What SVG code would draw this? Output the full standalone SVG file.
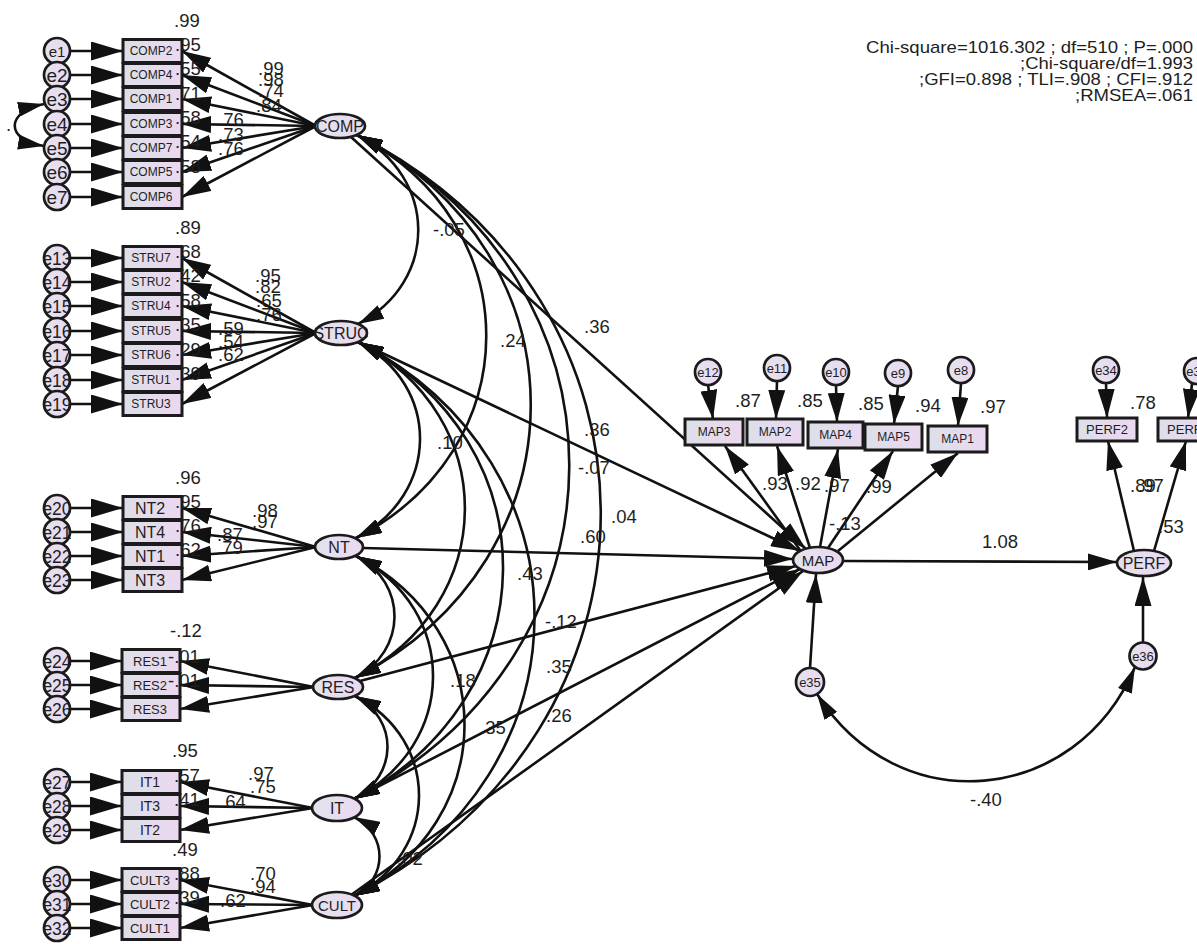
<svg xmlns="http://www.w3.org/2000/svg" width="1197" height="944" viewBox="0 0 1197 944">
<defs>
<linearGradient id="gb" x1="0" y1="0" x2="1" y2="0"><stop offset="0" stop-color="#dddfe9"/><stop offset="1" stop-color="#ebd8f0"/></linearGradient>
<linearGradient id="ge" x1="0" y1="0" x2="1" y2="0"><stop offset="0" stop-color="#e4e2ee"/><stop offset="1" stop-color="#ead9f0"/></linearGradient>
<marker id="ma" viewBox="0 0 10 10" refX="10" refY="5" markerWidth="29" markerHeight="17" markerUnits="userSpaceOnUse" orient="auto-start-reverse" preserveAspectRatio="none"><path d="M0,0L10,5L0,10z" fill="#111"/></marker>
<marker id="mb" viewBox="0 0 10 10" refX="10" refY="5" markerWidth="32" markerHeight="19" markerUnits="userSpaceOnUse" orient="auto-start-reverse" preserveAspectRatio="none"><path d="M0,0L10,5L0,10z" fill="#111"/></marker>
<marker id="mc" viewBox="0 0 10 10" refX="10" refY="5" markerWidth="26" markerHeight="15" markerUnits="userSpaceOnUse" orient="auto-start-reverse" preserveAspectRatio="none"><path d="M0,0L10,5L0,10z" fill="#111"/></marker>
</defs>
<style>
.c path{fill:none;stroke:#111;stroke-width:2.6}
.c .a{marker-end:url(#ma)}
.c .b{marker-end:url(#mb)}
.c .v{marker-start:url(#mc);marker-end:url(#mc)}
.bx{fill:url(#gb);stroke:#1b1b1b;stroke-width:3}
.el{fill:url(#ge);stroke:#1b1b1b;stroke-width:2.7}
text{font-family:"Liberation Sans",Arial,Helvetica,sans-serif;fill:#1e1e1e}
.n{font-size:18.5px}
.s{font-size:17px}
.m{text-anchor:middle}
.t11{font-size:12px}
.t12{font-size:13px}
.t13{font-size:14px}
.t15{font-size:16px}
.t17{font-size:17.5px}
.t18{font-size:19px}
.t14{font-size:15px}
.t16{font-size:16px}
</style>
<rect width="1197" height="944" fill="#fff"/>

<g id="connectors" class="c">
<path class="v" d="M44,104C5,112 5,140 44,146"/>
<path class="b" d="M70,51H123"/><path class="b" d="M70,75H123"/><path class="b" d="M70,99H123"/><path class="b" d="M70,124H123"/><path class="b" d="M70,148H123"/><path class="b" d="M70,172H123"/><path class="b" d="M70,197H123"/>
<path class="b" d="M70,258H123"/><path class="b" d="M70,282H123"/><path class="b" d="M70,306H123"/><path class="b" d="M70,331H123"/><path class="b" d="M70,355H123"/><path class="b" d="M70,380H123"/><path class="b" d="M70,404H123"/>
<path class="b" d="M70,508H123"/><path class="b" d="M70,532H123"/><path class="b" d="M70,556H123"/><path class="b" d="M70,580H123"/>
<path class="b" d="M70,661H122"/><path class="b" d="M70,685H122"/><path class="b" d="M70,709H122"/>
<path class="b" d="M70,782H122"/><path class="b" d="M70,806H122"/><path class="b" d="M70,830H122"/>
<path class="b" d="M70,880H122"/><path class="b" d="M70,904H122"/><path class="b" d="M70,928H122"/>
<path class="a" d="M316,126L182,51"/><path class="a" d="M316,126L182,75"/><path class="a" d="M316,126L182,99"/><path class="a" d="M316,126L182,124"/><path class="a" d="M316,126L182,148"/><path class="a" d="M316,126L182,172"/><path class="a" d="M316,126L182,197"/>
<path class="a" d="M316,333L182,258"/><path class="a" d="M316,333L182,282"/><path class="a" d="M316,333L182,306"/><path class="a" d="M316,333L182,331"/><path class="a" d="M316,333L182,355"/><path class="a" d="M316,333L182,380"/><path class="a" d="M316,333L182,404"/>
<path class="a" d="M316,547L182,508"/><path class="a" d="M316,547L182,532"/><path class="a" d="M316,547L182,556"/><path class="a" d="M316,547L182,580"/>
<path class="a" d="M314,687L180,661"/><path class="a" d="M314,687L180,685"/><path class="a" d="M314,687L180,709"/>
<path class="a" d="M313,808L180,782"/><path class="a" d="M313,808L180,806"/><path class="a" d="M313,808L180,830"/>
<path class="a" d="M313,905L180,880"/><path class="a" d="M313,905L180,904"/><path class="a" d="M313,905L180,928"/>
<path class="v" d="M357,135C438,177 439,282 358,324"/>
<path class="v" d="M357,135C530,224 529,449 356,538"/>
<path class="v" d="M357,135C590,254 588,558 355,678"/>
<path class="v" d="M357,135C642,281 639,653 354,799"/>
<path class="v" d="M357,135C684,302 681,729 354,896"/>
<path class="v" d="M358,342C442,385 440,495 356,538"/>
<path class="v" d="M358,342C502,416 500,604 355,678"/>
<path class="v" d="M358,342C554,442 550,698 354,799"/>
<path class="v" d="M358,342C596,464 592,774 354,896"/>
<path class="v" d="M356,556C408,583 407,651 355,678"/>
<path class="v" d="M356,556C460,610 458,745 354,799"/>
<path class="v" d="M356,556C502,631 500,821 354,896"/>
<path class="v" d="M355,696C399,719 398,776 354,799"/>
<path class="v" d="M355,696C441,740 440,852 354,896"/>
<path class="v" d="M354,817C388,834 388,879 354,896"/>
<path class="a" d="M351,137L806,549"/>
<path class="a" d="M359,342L800,551"/>
<path class="a" d="M363,548L793,559"/>
<path class="a" d="M360,681L796,566"/>
<path class="a" d="M354,799L800,569"/>
<path class="a" d="M351,895L803,571"/>
<path class="a" d="M800,550L725,446"/>
<path class="a" d="M810,548L777,446"/>
<path class="a" d="M820,547L838,449"/>
<path class="a" d="M828,548L893,451"/>
<path class="a" d="M838,551L958,453"/>
<path class="a" d="M708,385L713,419"/>
<path class="a" d="M777,381L776,419"/>
<path class="a" d="M836,385L837,422"/>
<path class="a" d="M898,386L894,424"/>
<path class="a" d="M961,383L958,426"/>
<path class="a" d="M810,668L816,574"/>
<path class="a" d="M1143,642L1143,577"/>
<path class="a" d="M843,561L1117,562"/>
<path class="a" d="M1134,551L1108,441"/>
<path class="a" d="M1154,551L1186,441"/>
<path class="a" d="M1106,383L1107,418"/>
<path class="a" d="M1192,384L1188,418"/>
<path class="v" d="M817,694C898,822 1076,806 1135,667"/>
</g>

<g id="COMP2"><rect class="bx" x="123" y="39.5" width="59" height="23"/><text class="t11 m" x="151" y="55">COMP2</text></g>
<g id="COMP4"><rect class="bx" x="123" y="63.5" width="59" height="23"/><text class="t11 m" x="151" y="79">COMP4</text></g>
<g id="COMP1"><rect class="bx" x="123" y="87.5" width="59" height="23"/><text class="t11 m" x="151" y="103">COMP1</text></g>
<g id="COMP3"><rect class="bx" x="123" y="112.5" width="59" height="23"/><text class="t11 m" x="151" y="128">COMP3</text></g>
<g id="COMP7"><rect class="bx" x="123" y="136.5" width="59" height="23"/><text class="t11 m" x="151" y="152">COMP7</text></g>
<g id="COMP5"><rect class="bx" x="123" y="160.5" width="59" height="23"/><text class="t11 m" x="151" y="176">COMP5</text></g>
<g id="COMP6"><rect class="bx" x="123" y="185.5" width="59" height="23"/><text class="t11 m" x="151" y="201">COMP6</text></g>

<g id="STRU7"><rect class="bx" x="123" y="246.5" width="59" height="23"/><text class="t11 m" x="151" y="262">STRU7</text></g>
<g id="STRU2"><rect class="bx" x="123" y="270.5" width="59" height="23"/><text class="t11 m" x="151" y="286">STRU2</text></g>
<g id="STRU4"><rect class="bx" x="123" y="294.5" width="59" height="23"/><text class="t11 m" x="151" y="310">STRU4</text></g>
<g id="STRU5"><rect class="bx" x="123" y="319.5" width="59" height="23"/><text class="t11 m" x="151" y="335">STRU5</text></g>
<g id="STRU6"><rect class="bx" x="123" y="343.5" width="59" height="23"/><text class="t11 m" x="151" y="359">STRU6</text></g>
<g id="STRU1"><rect class="bx" x="123" y="368.5" width="59" height="23"/><text class="t11 m" x="151" y="384">STRU1</text></g>
<g id="STRU3"><rect class="bx" x="123" y="392.5" width="59" height="23"/><text class="t11 m" x="151" y="408">STRU3</text></g>

<g id="NT2"><rect class="bx" x="123" y="496.5" width="59" height="23"/><text class="t15 m" x="150" y="514">NT2</text></g>
<g id="NT4"><rect class="bx" x="123" y="520.5" width="59" height="23"/><text class="t15 m" x="150" y="538">NT4</text></g>
<g id="NT1"><rect class="bx" x="123" y="544.5" width="59" height="23"/><text class="t15 m" x="150" y="562">NT1</text></g>
<g id="NT3"><rect class="bx" x="123" y="568.5" width="59" height="23"/><text class="t15 m" x="150" y="586">NT3</text></g>

<g id="RES1"><rect class="bx" x="122" y="649.5" width="58" height="23"/><text class="t12 m" x="150" y="665.5">RES1</text></g>
<g id="RES2"><rect class="bx" x="122" y="673.5" width="58" height="23"/><text class="t12 m" x="150" y="689.5">RES2</text></g>
<g id="RES3"><rect class="bx" x="122" y="697.5" width="58" height="23"/><text class="t12 m" x="150" y="713.5">RES3</text></g>

<g id="IT1"><rect class="bx" x="122" y="770.5" width="58" height="23"/><text class="t13 m" x="150" y="787">IT1</text></g>
<g id="IT3"><rect class="bx" x="122" y="794.5" width="58" height="23"/><text class="t13 m" x="150" y="811">IT3</text></g>
<g id="IT2"><rect class="bx" x="122" y="818.5" width="58" height="23"/><text class="t13 m" x="150" y="835">IT2</text></g>

<g id="CULT3"><rect class="bx" x="122" y="868.5" width="58" height="23"/><text class="t12 m" x="150" y="884.5">CULT3</text></g>
<g id="CULT2"><rect class="bx" x="122" y="892.5" width="58" height="23"/><text class="t12 m" x="150" y="908.5">CULT2</text></g>
<g id="CULT1"><rect class="bx" x="122" y="916.5" width="58" height="23"/><text class="t12 m" x="150" y="932.5">CULT1</text></g>

<g id="e1"><circle class="el" cx="57" cy="51" r="13"/><text class="t14 m" x="57" y="56.5">e1</text></g>
<g id="e2"><circle class="el" cx="57" cy="75" r="13"/><text class="t18 m" x="57" y="82">e2</text></g>
<g id="e3"><circle class="el" cx="57" cy="99" r="13"/><text class="t18 m" x="57" y="106">e3</text></g>
<g id="e4"><circle class="el" cx="57" cy="124" r="13"/><text class="t18 m" x="57" y="131">e4</text></g>
<g id="e5"><circle class="el" cx="57" cy="148" r="13"/><text class="t18 m" x="57" y="155">e5</text></g>
<g id="e6"><circle class="el" cx="57" cy="172" r="13"/><text class="t18 m" x="57" y="179">e6</text></g>
<g id="e7"><circle class="el" cx="57" cy="197" r="13"/><text class="t18 m" x="57" y="204">e7</text></g>
<g id="e13"><circle class="el" cx="57" cy="258" r="13"/><text class="t17 m" x="57" y="264.5">e13</text></g>
<g id="e14"><circle class="el" cx="57" cy="282" r="13"/><text class="t17 m" x="57" y="288.5">e14</text></g>
<g id="e15"><circle class="el" cx="57" cy="306" r="13"/><text class="t17 m" x="57" y="312.5">e15</text></g>
<g id="e16"><circle class="el" cx="57" cy="331" r="13"/><text class="t17 m" x="57" y="337.5">e16</text></g>
<g id="e17"><circle class="el" cx="57" cy="355" r="13"/><text class="t17 m" x="57" y="361.5">e17</text></g>
<g id="e18"><circle class="el" cx="57" cy="380" r="13"/><text class="t17 m" x="57" y="386.5">e18</text></g>
<g id="e19"><circle class="el" cx="57" cy="404" r="13"/><text class="t17 m" x="57" y="410.5">e19</text></g>
<g id="e20"><circle class="el" cx="57" cy="508" r="13"/><text class="t17 m" x="57" y="514.5">e20</text></g>
<g id="e21"><circle class="el" cx="57" cy="532" r="13"/><text class="t17 m" x="57" y="538.5">e21</text></g>
<g id="e22"><circle class="el" cx="57" cy="556" r="13"/><text class="t17 m" x="57" y="562.5">e22</text></g>
<g id="e23"><circle class="el" cx="57" cy="580" r="13"/><text class="t17 m" x="57" y="586.5">e23</text></g>
<g id="e24"><circle class="el" cx="57" cy="661" r="13"/><text class="t17 m" x="57" y="667.5">e24</text></g>
<g id="e25"><circle class="el" cx="57" cy="685" r="13"/><text class="t17 m" x="57" y="691.5">e25</text></g>
<g id="e26"><circle class="el" cx="57" cy="709" r="13"/><text class="t17 m" x="57" y="715.5">e26</text></g>
<g id="e27"><circle class="el" cx="57" cy="782" r="13"/><text class="t17 m" x="57" y="788.5">e27</text></g>
<g id="e28"><circle class="el" cx="57" cy="806" r="13"/><text class="t17 m" x="57" y="812.5">e28</text></g>
<g id="e29"><circle class="el" cx="57" cy="830" r="13"/><text class="t17 m" x="57" y="836.5">e29</text></g>
<g id="e30"><circle class="el" cx="57" cy="880" r="13"/><text class="t17 m" x="57" y="886.5">e30</text></g>
<g id="e31"><circle class="el" cx="57" cy="904" r="13"/><text class="t17 m" x="57" y="910.5">e31</text></g>
<g id="e32"><circle class="el" cx="57" cy="928" r="13"/><text class="t17 m" x="57" y="934.5">e32</text></g>

<g id="COMP"><ellipse class="el" cx="340" cy="126" rx="25" ry="12"/><text class="t16 m" x="340" y="131.5">COMP</text></g>
<g id="STRUC"><ellipse class="el" cx="341" cy="333" rx="26" ry="12"/><text class="t16 m" x="341" y="338.5">STRUC</text></g>
<g id="NT"><ellipse class="el" cx="339" cy="547" rx="24" ry="12"/><text class="t16 m" x="339" y="552.5">NT</text></g>
<g id="RES"><ellipse class="el" cx="338" cy="687" rx="25" ry="12"/><text class="t16 m" x="338" y="692.5">RES</text></g>
<g id="IT"><ellipse class="el" cx="337" cy="808" rx="25" ry="13"/><text class="t16 m" x="337" y="813.5">IT</text></g>
<g id="CULT"><ellipse class="el" cx="337" cy="905" rx="25" ry="13"/><text class="t14 m" x="337" y="910.5">CULT</text></g>

<g id="MAP3"><rect class="bx" x="685" y="419" width="58" height="26"/><text class="t11 m" x="714" y="436">MAP3</text></g>
<g id="MAP2"><rect class="bx" x="747" y="419" width="56" height="26"/><text class="t11 m" x="775" y="436">MAP2</text></g>
<g id="MAP4"><rect class="bx" x="808" y="422" width="55" height="26"/><text class="t11 m" x="835.5" y="439">MAP4</text></g>
<g id="MAP5"><rect class="bx" x="865" y="424" width="57" height="26"/><text class="t11 m" x="893.5" y="441">MAP5</text></g>
<g id="MAP1"><rect class="bx" x="928" y="426" width="59" height="26"/><text class="t11 m" x="957.5" y="443">MAP1</text></g>
<g id="e12"><circle class="el" cx="708" cy="372" r="13"/><text class="t12 m" x="708" y="376.5">e12</text></g>
<g id="e11"><circle class="el" cx="777" cy="368" r="13"/><text class="t12 m" x="777" y="372.5">e11</text></g>
<g id="e10"><circle class="el" cx="836" cy="372" r="13"/><text class="t12 m" x="836" y="376.5">e10</text></g>
<g id="e9"><circle class="el" cx="898" cy="373" r="13"/><text class="t12 m" x="898" y="377.5">e9</text></g>
<g id="e8"><circle class="el" cx="961" cy="370" r="13"/><text class="t12 m" x="961" y="374.5">e8</text></g>
<g id="MAP"><ellipse class="el" cx="818" cy="560" rx="25" ry="13"/><text class="t14 m" x="818" y="565.5">MAP</text></g>
<g id="e35"><circle class="el" cx="810" cy="682" r="14"/><text class="t12 m" x="810" y="686.5">e35</text></g>

<g id="PERF2"><rect class="bx" x="1077" y="418" width="60" height="23"/><text class="t12 m" x="1107" y="434">PERF2</text></g>
<g id="PERF1"><rect class="bx" x="1158" y="418" width="60" height="23"/><text class="t12 m" x="1188" y="434">PERF1</text></g>
<g id="e34"><circle class="el" cx="1106" cy="370" r="13"/><text class="t12 m" x="1106" y="374.5">e34</text></g>
<g id="e33"><circle class="el" cx="1197" cy="371" r="13"/><text class="t12 m" x="1197" y="375.5">e33</text></g>
<g id="PERF"><ellipse class="el" cx="1144" cy="563" rx="27" ry="13"/><text class="t16 m" x="1144" y="568.5">PERF</text></g>
<g id="e36"><circle class="el" cx="1143" cy="656" r="13.5"/><text class="t12 m" x="1143" y="660.5">e36</text></g>

<g id="labels" class="n">
<text x="6" y="131">.</text>
<text x="174" y="27">.99</text><text x="175" y="51">.95</text><text x="175" y="75">.55</text><text x="175" y="100">.71</text><text x="175" y="124">.58</text><text x="175" y="148">.54</text><text x="175" y="173">.58</text>
<text x="258" y="75">.99</text><text x="258" y="86">.98</text><text x="258" y="97">.74</text><text x="256" y="112">.84</text><text x="218" y="126">.76</text><text x="218" y="141">.73</text><text x="218" y="155">.76</text>
<text x="175" y="234">.89</text><text x="175" y="258">.68</text><text x="175" y="282">.42</text><text x="175" y="307">.58</text><text x="175" y="331">.35</text><text x="175" y="356">.29</text><text x="175" y="380">.39</text>
<text x="255" y="282">.95</text><text x="255" y="293">.82</text><text x="256" y="307">.65</text><text x="256" y="321">.76</text><text x="218" y="335">.59</text><text x="218" y="348">.54</text><text x="218" y="361">.62</text>
<text x="175" y="484">.96</text><text x="175" y="508">.95</text><text x="175" y="532">.76</text><text x="175" y="556">.62</text>
<text x="252" y="517">.98</text><text x="252" y="528">.97</text><text x="217" y="541">.87</text><text x="217" y="554">.79</text>
<text x="170" y="637">-.12</text><text x="168" y="663">-.01</text><text x="168" y="687">-.01</text>
<text x="172" y="757">.95</text><text x="174" y="782">.57</text><text x="174" y="806">.41</text>
<text x="248" y="780">.97</text><text x="250" y="793">.75</text><text x="220" y="808">.64</text>
<text x="172" y="856">.49</text><text x="174" y="880">.88</text><text x="174" y="904">.39</text>
<text x="250" y="880">.70</text><text x="250" y="893">.94</text><text x="220" y="907">.62</text>
<text x="433" y="236">-.05</text><text x="500" y="347">.24</text><text x="584" y="333">.36</text><text x="584" y="436">.36</text><text x="578" y="474">-.07</text><text x="437" y="449">.10</text><text x="611" y="523">.04</text><text x="580" y="543">.60</text><text x="517" y="580">.43</text><text x="545" y="628">-.12</text><text x="546" y="673">.35</text><text x="450" y="687">.18</text><text x="480" y="734">.35</text><text x="546" y="722">.26</text><text x="397" y="865">.02</text>
<text x="735" y="407">.87</text><text x="797" y="407">.85</text><text x="858" y="410">.85</text><text x="915" y="412">.94</text><text x="980" y="413">.97</text>
<text x="762" y="490">.93</text><text x="795" y="490">.92</text><text x="824" y="492">.97</text><text x="866" y="493">.99</text><text x="829" y="530">-.13</text><text x="982" y="548">1.08</text>
<text x="1130" y="409">.78</text><text x="1130" y="492">.89</text><text x="1138" y="492">.97</text><text x="1158" y="533">.53</text><text x="970" y="806">-.40</text>
</g>

<g id="fit" class="s">
<text x="866" y="53" textLength="327" lengthAdjust="spacingAndGlyphs">Chi-square=1016.302 ; df=510 ; P=.000</text>
<text x="1020" y="69" textLength="173" lengthAdjust="spacingAndGlyphs">;Chi-square/df=1.993</text>
<text x="919" y="85" textLength="274" lengthAdjust="spacingAndGlyphs">;GFI=0.898 ; TLI=.908 ; CFI=.912</text>
<text x="1075" y="101" textLength="118" lengthAdjust="spacingAndGlyphs">;RMSEA=.061</text>
</g>
</svg>
